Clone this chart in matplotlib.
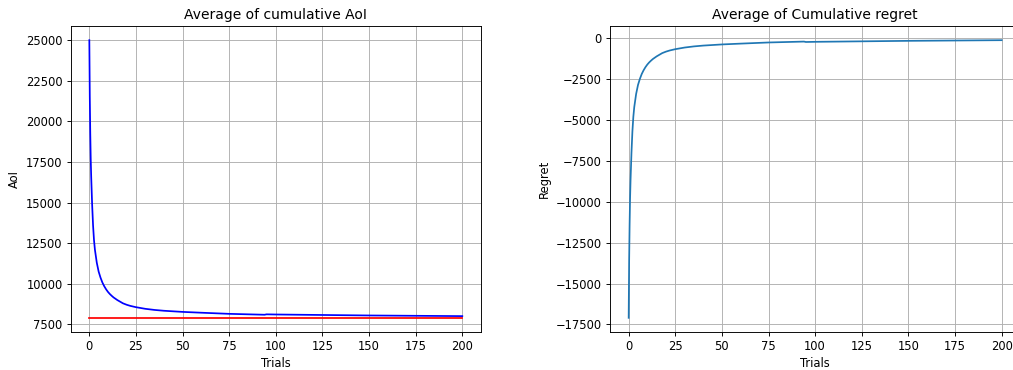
import numpy as np
import matplotlib
matplotlib.use("Agg")
import matplotlib.pyplot as plt

trials = [0, 0.25, 0.5, 0.75, 1, 1.5, 2, 2.5, 3, 4, 5, 6, 7, 8, 9, 10, 11, 12,
          13, 15, 18, 20, 22, 25, 30, 35, 40, 50, 60, 75, 94, 95, 100, 125,
          150, 175, 200]
# average cumulative AoI
aoi = [25000, 21500, 19300, 17700, 16600, 14900, 13600, 12700, 12100, 11300,
       10750, 10380, 10080, 9850, 9660, 9500, 9370, 9260, 9160, 9000, 8800,
       8710, 8640, 8560, 8460, 8390, 8340, 8270, 8220, 8150, 8095, 8120,
       8110, 8080, 8050, 8030, 8010]
optimum = 7905  # optimal AoI (red line)

aoi = np.array(aoi)
regret = optimum - aoi

fig = plt.figure(figsize=(1014 / 83, 370 / 83), dpi=83)

ax1 = fig.add_axes([0.0697, 0.1035, 0.4046, 0.8254])
ax1.plot(trials, aoi, color='blue')
ax1.plot([trials[0], trials[-1]], [optimum, optimum], color='red')
ax1.set_title('Average of cumulative AoI')
ax1.set_xlabel('Trials')
ax1.set_ylabel('AoI')
ax1.grid(True)

# right panel runs slightly past the image edge, as in the original crop
ax2 = fig.add_axes([0.6016, 0.1035, 0.4046, 0.8254])
ax2.plot(trials, regret)
ax2.set_title('Average of Cumulative regret')
ax2.set_xlabel('Trials')
ax2.set_ylabel('Regret')
ax2.grid(True)

fig.savefig('out.png', dpi=83)
